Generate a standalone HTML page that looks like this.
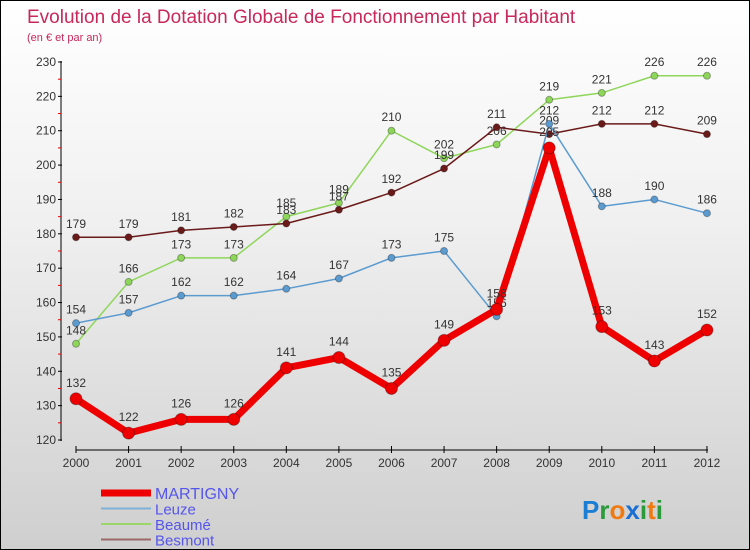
<!DOCTYPE html>
<html><head><meta charset="utf-8"><style>
body{margin:0}
#c{width:748px;height:548px;border:1px solid #000;background:linear-gradient(#fff 0%,#f0f0f0 40%,#cfcfcf 100%);position:relative;font-family:"Liberation Sans",sans-serif;overflow:hidden}
</style></head><body>
<div id="c">
<svg id="s" width="748" height="548"></svg>
</div>
<script>
const years=[2000,2001,2002,2003,2004,2005,2006,2007,2008,2009,2010,2011,2012];
const martigny=[132,122,126,126,141,144,135,149,158,205,153,143,152];
const leuze=[154,157,162,162,164,167,173,175,156,212,188,190,186];
const beaume=[148,166,173,173,185,189,210,202,206,219,221,226,226];
const besmont=[179,179,181,182,183,187,192,199,211,209,212,212,209];
const yTicks=[120,130,140,150,160,170,180,190,200,210,220,230];
const NS='http://www.w3.org/2000/svg';
const s=document.getElementById('s');
const X=i=>75+i*52.58, Y=v=>439-(v-120)*(378/110);
function el(t,a,p){const e=document.createElementNS(NS,t);for(const k in a)e.setAttribute(k,a[k]);(p||s).appendChild(e);return e;}
function tx(x,y,str,a){const e=el('text',Object.assign({x:x,y:y},a));e.textContent=str;return e;}
let t=tx(26,22,'Evolution de la Dotation Globale de Fonctionnement par Habitant',{fill:'#c8285a','font-size':19});

t=tx(26,40,'(en € et par an)',{fill:'#c8285a','font-size':11});

let ya=el('line',{x1:60,y1:60,x2:60,y2:440,stroke:'#000'});

yTicks.forEach(v=>{el('line',{x1:57,x2:61,y1:Y(v),y2:Y(v),stroke:'#000'});
 if(v<230)el('line',{x1:57,x2:60,y1:Y(v+5),y2:Y(v+5),stroke:'#e00'});
 const l=tx(55,Y(v)+4,v,{'text-anchor':'end','font-size':12,fill:'#333'});
 });
let xa=el('line',{x1:75,y1:449,x2:707,y2:449,stroke:'#000'});

years.forEach((yv,i)=>{el('line',{x1:X(i),x2:X(i),y1:445,y2:452,stroke:'#000'});
 const l=tx(X(i),466,yv,{'text-anchor':'middle','font-size':12,fill:'#333'});
 });
function series(data,color,w,r,name){
 const g=el('g',{});
 el('polyline',{points:data.map((v,i)=>X(i)+','+Y(v)).join(' '),fill:'none',stroke:color,'stroke-width':w,'stroke-linejoin':'round'},g);
 data.forEach((v,i)=>{const c=el('circle',{cx:X(i),cy:Y(v),r:r,fill:color,stroke:'rgba(0,0,0,0.3)'},g);
  
  tx(X(i),Y(v)-(r+6),v,{'text-anchor':'middle','font-size':12,fill:'#333'},g);});
}
series(beaume,'#8ed65a',1.5,3.5,'beaume');
series(besmont,'#6b1a1a',1.5,3.5,'besmont');
series(leuze,'#5b9bd0',1.5,3.5,'leuze');
series(martigny,'#ee0000',7,6,'martigny');
const leg=[['MARTIGNY','#ee0000',7],['Leuze','#7fb0d8',2],['Beaumé','#9ad66a',2],['Besmont','#9a6a6a',2]];
leg.forEach((d,i)=>{const y=492+i*15.5;const g=el('g',{});
 el('line',{x1:100,x2:150,y1:y,y2:y,stroke:d[1],'stroke-width':d[2]},g);
 tx(154,y+6,d[0],{'font-size':i==0?16:15,fill:'#5555ee'},g);});
const lg=el('text',{x:581,y:518,'font-size':26,'font-weight':'bold'});

[['P','#1a7fd4'],['r','#2a9a3a'],['o','#f07a10'],['x','#1a6fd4'],['i','#2a9a3a'],['t','#f07a10'],['i','#2a9a3a']].forEach(p=>{const ts=el('tspan',{fill:p[1]},lg);ts.textContent=p[0];});
</script>
</body></html>
